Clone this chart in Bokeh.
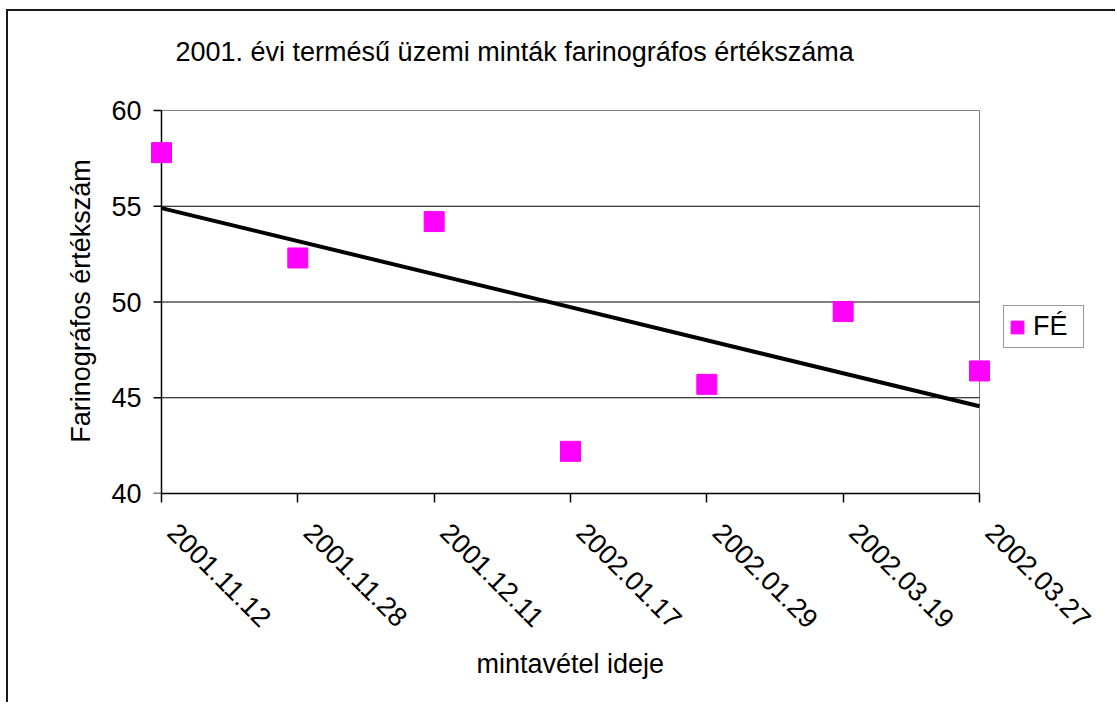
import numpy as np
from bokeh.plotting import figure
from bokeh.models import (Range1d, FixedTicker, Legend, LegendItem, Title, ColumnDataSource)
from bokeh.embed import file_html
from bokeh.resources import INLINE

# ---- data ----
dates = ["2001.11.12", "2001.11.28", "2001.12.11", "2002.01.17",
         "2002.01.29", "2002.03.19", "2002.03.27"]
fe_values = [57.8, 52.3, 54.2, 42.2, 45.7, 49.5, 46.4]
y_ticks = [40, 45, 50, 55, 60]
grid_values = [45, 50, 55]
title_text = "2001. évi termésű üzemi minták farinográfos értékszáma"
x_label = "mintavétel ideje"
y_label = "Farinográfos értékszám"
series_name = "FÉ"

FONT = "Liberation Sans"
FS = "27px"
NB = "\u00a0\u00a0"

x_idx = list(range(len(dates)))
x0, x1 = x_idx[0], x_idx[-1]
ymin, ymax = y_ticks[0], y_ticks[-1]

slope, intercept = np.polyfit(x_idx, fe_values, 1)
trend_x = [x0, x1]
trend_y = [intercept + slope * x for x in trend_x]

PX_PER_UNIT = 818 / 6.0
pad_l = 11 / PX_PER_UNIT
pad_r = 121 / PX_PER_UNIT
pad_top = 2 / (383 / 20.0)
tick_len = 8 / PX_PER_UNIT

p = figure(width=1109, height=693, output_backend="svg", toolbar_location=None,
           x_range=Range1d(x0 - pad_l, x1 + pad_r), y_range=Range1d(ymin, ymax + pad_top),
           min_border_left=142, min_border_right=17, min_border_top=97,
           min_border_bottom=211,
           styles={"margin-left": "6px", "margin-top": "9px",
                   "border-left": "2px solid #1a1a1a", "border-top": "2px solid #1a1a1a"})

p.background_fill_color = "white"
p.border_fill_color = "white"
p.outline_line_color = None

# title (outermost) with an empty spacer panel between it and the plot area
p.title = Title(text=title_text, align="left", offset=25, standoff=0, vertical_align="bottom",
                text_font=FONT, text_font_size=FS, text_font_style="normal",
                text_color="black")
p.add_layout(Title(text=" ", standoff=10, text_font=FONT, text_font_size=FS), "above")

# x axis
p.xaxis.ticker = FixedTicker(ticks=x_idx)
p.xaxis.bounds = (x0, x1)
p.xaxis.major_label_overrides = {i: NB + d for i, d in enumerate(dates)}
p.xaxis.major_label_orientation = -np.pi / 4
p.xaxis.major_label_standoff = 15
p.xaxis.major_tick_out = 9
p.xaxis.major_tick_in = 0
p.xaxis.minor_tick_line_color = None
p.xaxis.axis_line_color = "black"
p.xaxis.axis_line_width = 1.5
p.xaxis.major_tick_line_color = "black"
p.xaxis.major_tick_line_width = 1.5

# x axis title, centred under the category span
p.add_layout(Title(text=x_label, align="left", offset=326, standoff=2, vertical_align="top",
                   text_font=FONT, text_font_size=FS, text_font_style="normal",
                   text_color="black"), "below")

# y axis (labels only; its line & ticks are drawn at the first category below)
p.yaxis.ticker = FixedTicker(ticks=y_ticks)
p.yaxis.major_label_standoff = 9
p.yaxis.major_tick_out = 0
p.yaxis.major_tick_in = 0
p.yaxis.major_tick_line_color = None
p.yaxis.minor_tick_line_color = None
p.yaxis.axis_line_color = None
p.yaxis.axis_label = y_label
p.yaxis.axis_label_standoff = 12

for ax in (p.xaxis, p.yaxis):
    ax.major_label_text_font = FONT
    ax.major_label_text_font_size = FS
    ax.major_label_text_color = "black"
    ax.axis_label_text_font = FONT
    ax.axis_label_text_font_size = FS
    ax.axis_label_text_font_style = "normal"
    ax.axis_label_text_color = "black"

p.xgrid.grid_line_color = None
p.ygrid.grid_line_color = None

# plot-area border (top and right, grey) and horizontal gridlines
p.line([x0, x1, x1], [ymax, ymax, ymin], line_color="#808080", line_width=1)
p.segment(x0=[x0] * len(grid_values), x1=[x1] * len(grid_values),
          y0=grid_values, y1=grid_values, line_color="black", line_width=1)
# value axis line and its ticks at the first category
p.line([x0, x0], [ymin, ymax], line_color="black", line_width=1.5)
p.segment(x0=[x0 - tick_len] * len(y_ticks), x1=[x0] * len(y_ticks),
          y0=y_ticks, y1=y_ticks, line_color="black", line_width=1.5)

# trend line
p.line(trend_x, trend_y, line_color="black", line_width=4)

# points
src = ColumnDataSource(dict(x=x_idx, y=fe_values))
sc = p.scatter("x", "y", source=src, marker="square", size=20,
               fill_color="#FF00FF", line_color="#FF00FF")
legend_sq = p.quad(left=[np.nan], right=[np.nan], top=[np.nan], bottom=[np.nan],
                   fill_color="#FF00FF", line_color="#FF00FF")

legend = Legend(items=[LegendItem(label=series_name, renderers=[sc, legend_sq])],
                location=(853, 145), orientation="vertical",
                glyph_width=16, glyph_height=16, label_standoff=8, label_width=45,
                padding=5, margin=0, spacing=0,
                label_text_font=FONT, label_text_font_size=FS,
                label_text_color="black",
                border_line_color="#333333", border_line_width=1,
                background_fill_color="white", background_fill_alpha=1)
p.add_layout(legend, "center")

open("out.html", "w").write(file_html(p, INLINE))
